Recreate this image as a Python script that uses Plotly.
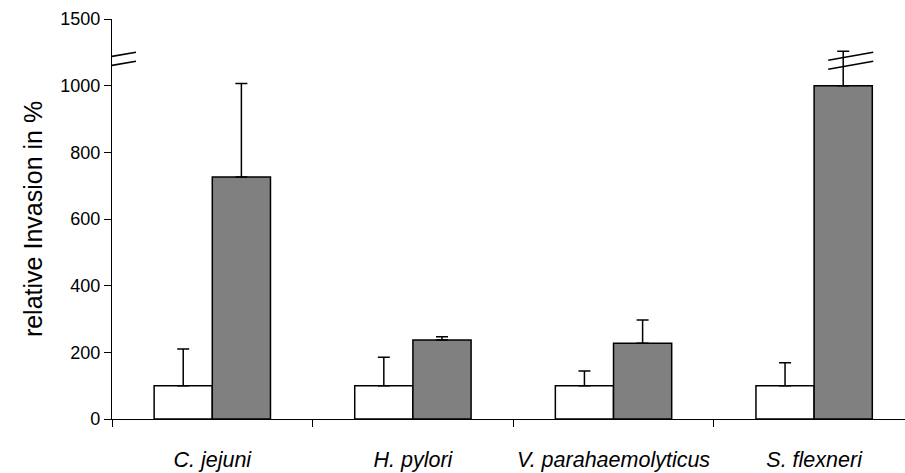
import plotly.graph_objects as go

# Invasion relative to control (%), per pathogen
categories = ["C. jejuni", "H. pylori", "V. parahaemolyticus", "S. flexneri"]
control = [100, 100, 100, 100]
control_err = [110, 85, 44, 69]
treated = [726, 237, 227, 1000]
treated_err = [290, 10, 70, 258]

y_ticks = [0, 200, 400, 600, 800, 1000, 1500]

# Broken y axis: 0-1000 linear, 1000-1500 compressed into the top segment
BREAK_AT = 1000
COMPRESS = 0.4


def to_axis(v):
    return v if v <= BREAK_AT else BREAK_AT + (v - BREAK_AT) * COMPRESS


def upper_err(vals, errs):
    return [to_axis(v + e) - to_axis(v) for v, e in zip(vals, errs)]


xs = list(range(len(categories)))
font_name = "Liberation Sans, Arial, sans-serif"

fig = go.Figure()
fig.add_trace(go.Bar(
    x=xs, y=[to_axis(v) for v in control], name="control",
    marker=dict(color="white", line=dict(color="black", width=1.5)),
    error_y=dict(type="data", symmetric=False,
                 array=upper_err(control, control_err),
                 arrayminus=[0] * len(control),
                 color="black", thickness=1.5, width=6),
))
fig.add_trace(go.Bar(
    x=xs, y=[to_axis(v) for v in treated], name="treated",
    marker=dict(color="#808080", line=dict(color="black", width=1.5)),
    error_y=dict(type="data", symmetric=False,
                 array=upper_err(treated, treated_err),
                 arrayminus=[0] * len(treated),
                 color="black", thickness=1.5, width=6),
))

# break marks: on the y axis and on the S. flexneri error bar
break_y = 1075
for xa, dx0, dx1 in [(-0.5, -21, 24), (3 + 0.145, -15, 30)]:
    for dy in (0.5, -8.5):
        fig.add_shape(type="line", xref="x", yref="y",
                      xsizemode="pixel", ysizemode="pixel",
                      xanchor=xa, yanchor=break_y,
                      x0=dx0, x1=dx1, y0=dy, y1=dy + 8,
                      line=dict(color="black", width=1.6))

fig.update_layout(
    width=905, height=473,
    margin=dict(l=112, r=0, t=19, b=54),
    paper_bgcolor="white", plot_bgcolor="white",
    showlegend=False,
    barmode="group", bargap=0.42, bargroupgap=0,
    font=dict(family=font_name, size=20, color="black"),
    xaxis=dict(
        range=[-0.5, 3.453], showgrid=False, zeroline=False,
        showline=True, linecolor="black", linewidth=1.4,
        tickmode="array", tickvals=xs,
        ticktext=[f"<i>{c}</i>" for c in categories],
        ticks="", ticklabelstandoff=21,
        tickfont=dict(size=21.5),
        minor=dict(tickmode="array", tickvals=[-0.5, 0.5, 1.5, 2.5],
                   ticks="outside", ticklen=7, tickwidth=1.4,
                   tickcolor="black", showgrid=False),
    ),
    yaxis=dict(
        range=[0, to_axis(1500)], showgrid=False, zeroline=False,
        showline=True, linecolor="black", linewidth=1.4,
        tickmode="array", tickvals=[to_axis(t) for t in y_ticks],
        ticktext=[str(t) for t in y_ticks],
        ticks="outside", ticklen=7, tickwidth=1.4, tickcolor="black",
        tickfont=dict(size=18),
        title=dict(text="relative Invasion in %", font=dict(size=25), standoff=10),
    ),
)

fig.write_html("out.html")
